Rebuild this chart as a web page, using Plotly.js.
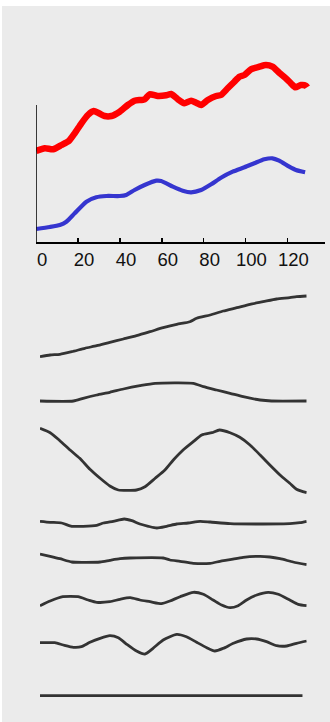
<!DOCTYPE html>
<html><head><meta charset="utf-8">
<script src="https://cdn.plot.ly/plotly-3.0.1.min.js"></script>
<style>html,body{margin:0;padding:0;background:#fff;overflow:hidden}#chart{position:absolute;left:2px;top:6px;width:328px;height:716px}</style>
</head><body><div id="chart"></div><script>
// ---- top panel data ----
const xTicks = [0, 20, 40, 60, 80, 100, 120];
const redX = [0,4.1,8.1,12.1,15.7,18.4,21.6,24.7,27.5,30,32.7,35.9,39.9,43.8,47,51.8,54.2,58.1,62.1,64.5,67.7,70.8,74,76.4,78.8,82,86,88.3,91.5,94.7,97.1,99.5,102.6,106.6,109.8,112.9,116.1,119.3,121.7,123.8,126.5,128.9,129.5];
const redY = [91,93.7,92.7,97,101.3,108.7,118.7,127,131,128.7,126,126,130.3,137,141.3,142.7,147.7,146,146.7,148,142.7,138.7,141.3,139.3,137,142,146,147,153.7,160.3,165.3,167,172.7,175.3,177,175.3,169.3,163.7,158.7,154.7,157,156.3,154.7];
const blueX = [0,6.5,11.3,14.4,18.4,24,28.7,33.5,39.9,43,47,51.8,57.4,59.7,65.3,70,74,78.8,83.6,88.3,93.9,99.5,104.2,109,112.9,116.1,120.9,124.1,128.5];
const blueY = [13,15,17,20.3,28.7,40.3,44.7,46,46,47,52,57,61.3,61,55.3,51.3,49.7,52,57.7,64.3,70.3,74.7,78.7,82.7,83.7,81.3,75.3,72,69.7];

// ---- bottom components data ----
const c1x = [0,2.4,4.7,7.5,10.6,13.4,16.5,19.7,22.8,26,29.1,32.3,35.4,37,40.2,43.3,46.5,49.6,52.7,55.9,59,60.6,63];
const c1y = [-30.7,-29,-28.3,-25.7,-22.3,-19.7,-16.3,-13,-9.7,-5.7,-1.7,1.7,4.3,7.7,11,15,18.3,21.7,24.3,27,28.3,29.3,30];
const c2x = [0,7.9,10.2,13.4,16.5,19.7,23.6,27.2,36.2,38.6,41.7,44.9,48,52,54.7,63];
const c2y = [-9,-9,-6.3,-3,-0.3,3,6.3,8.7,8.7,5.3,2,-1.3,-4.7,-8,-9,-9];
const c3x = [0,2.4,4.7,7.1,9.4,11.8,14.2,16.5,18.5,22.8,24.8,27.2,29.5,31.5,33.8,36.2,38.2,40.6,42.4,44.9,47.2,49.6,52,54.3,56.7,59,60.6,63];
const c3y = [31.7,27.3,19.3,10,1.7,-9.3,-18.3,-26,-30,-30,-26.7,-18.3,-10,0,10,18.3,25,27.3,30,27.3,22.7,15,5,-5,-15,-23.3,-29.3,-32.7];
const c4x = [0,2.4,5.1,7.5,10.2,13.4,15,17.3,19.9,21.7,23.6,25.6,27.6,29.9,32.3,35,37.8,40.2,44.9,52.7,59,61.4,63];
const c4y = [2.7,1.7,1,-2.3,-2.3,-1.3,1,2.7,5,3.3,0,-2.3,-4,-2.3,0,1,2.7,2,0.3,0,0.3,1.3,2.7];
const c5x = [0,2.4,4.7,7.5,10.2,14.2,16.5,18.9,21.3,29.1,30.7,33.1,36.2,40.2,42.5,44.9,48,52,54.3,56.7,59.8,63];
const c5y = [5,2.7,0.3,-3,-3.3,-3,-1.3,0.3,1,1,-1,-2.3,-4.3,-4.3,-2.3,-0.7,1.7,2.7,2,0.3,-3,-5.7];
const c6x = [0,2.4,5.4,9,11.4,13.4,16.5,18.9,21.3,23.6,26,28.7,30.7,33.1,36.2,38.6,40.9,42.9,44.9,46.8,48.8,51.2,53.9,56.3,59,61,63];
const c6y = [-5.7,-1,3.3,3.3,0,-2.3,-1.7,0.7,2.3,0,-1.7,-3.7,-1,3.3,7.7,5.7,0,-5,-7.7,-5.7,0,5,7.7,5.7,0,-4.3,-5.7];
const c7x = [0,3.5,5.5,7.9,9.8,11.8,14.2,16.5,18.5,20.5,22.8,24.8,26.7,29.1,32.3,34.6,37,39.4,41.3,43.3,45.7,48.8,51.2,53.5,55.9,58.3,60.6,63];
const c7y = [1.3,1.3,-1,-3.3,-2.7,1.7,5.7,8.3,6.3,-0.3,-7,-10,-4.3,4,9.7,7.3,1.7,-3.7,-7,-4.3,0.7,5,5,2.3,-1.7,-2,0.7,3];
const c8x = [0,62];
const c8y = [0,0];

// ---- layout geometry (pixels of the figure) ----
const W = 328, H = 716, OX = 2, OY = 6;
const px2x = p => (p - OX) / W;
const px2y = p => 1 - (p - OY) / H;

const compsX = [c1x,c2x,c3x,c4x,c5x,c6x,c7x,c8x];
const compsY = [c1y,c2y,c3y,c4y,c5y,c6y,c7y,c8y];
const centers = [326,392,460,524,559,600,644,695.7];
const halfH = [36,14,36,12,12,12,14,8];

const traces = [
  {x: redX, y: redY, type: 'scatter', mode: 'lines', line: {color: '#ff0000', width: 6.5, shape: 'spline', smoothing: 0.6}, xaxis: 'x', yaxis: 'y', hoverinfo: 'skip'},
  {x: blueX, y: blueY, type: 'scatter', mode: 'lines', line: {color: '#3535cf', width: 4.2, shape: 'spline', smoothing: 0.6}, xaxis: 'x', yaxis: 'y', hoverinfo: 'skip'}
];

const layout = {
  width: W, height: H,
  margin: {l: 0, r: 0, t: 0, b: 0, pad: 0},
  paper_bgcolor: '#ebebeb', plot_bgcolor: 'rgba(0,0,0,0)',
  showlegend: false,
  font: {family: 'Liberation Sans, Arial, sans-serif', color: '#000'},
  xaxis: {
    domain: [px2x(36.2), px2x(325)], range: [0, 138], anchor: 'y',
    showgrid: false, zeroline: false, showline: true, linecolor: '#000', linewidth: 1.5,
    ticks: 'inside', ticklen: 4, tickwidth: 1.5, tickcolor: '#000',
    tickvals: xTicks, ticktext: xTicks.map(String),
    tickfont: {size: 18.5, color: '#111', family: 'Liberation Sans, Arial, sans-serif'},
    ticklabelshift: 6
  },
  yaxis: {
    domain: [px2y(242), px2y(55)], range: [0, 187], anchor: 'x',
    showgrid: false, zeroline: false, showline: false, showticklabels: false, ticks: ''
  },
  xaxis2: {
    domain: [px2x(40), px2x(306.7)], range: [0, 63], anchor: 'y2', visible: false
  },
  shapes: [
    {type: 'line', xref: 'x', yref: 'y', x0: 0, x1: 0, y0: 0, y1: 137, line: {color: '#000', width: 1.5}}
  ]
};

compsX.forEach((cx, i) => {
  const n = i + 2;
  layout['yaxis' + n] = {
    domain: [px2y(centers[i] + halfH[i]), px2y(centers[i] - halfH[i])],
    range: [-halfH[i], halfH[i]], anchor: 'x2', visible: false
  };
  traces.push({x: cx, y: compsY[i], type: 'scatter', mode: 'lines',
    line: {color: '#333333', width: 2.8, shape: 'spline', smoothing: 0.6},
    xaxis: 'x2', yaxis: 'y' + n, hoverinfo: 'skip'});
});

Plotly.newPlot('chart', traces, layout, {staticPlot: true, displayModeBar: false});
</script></body></html>
